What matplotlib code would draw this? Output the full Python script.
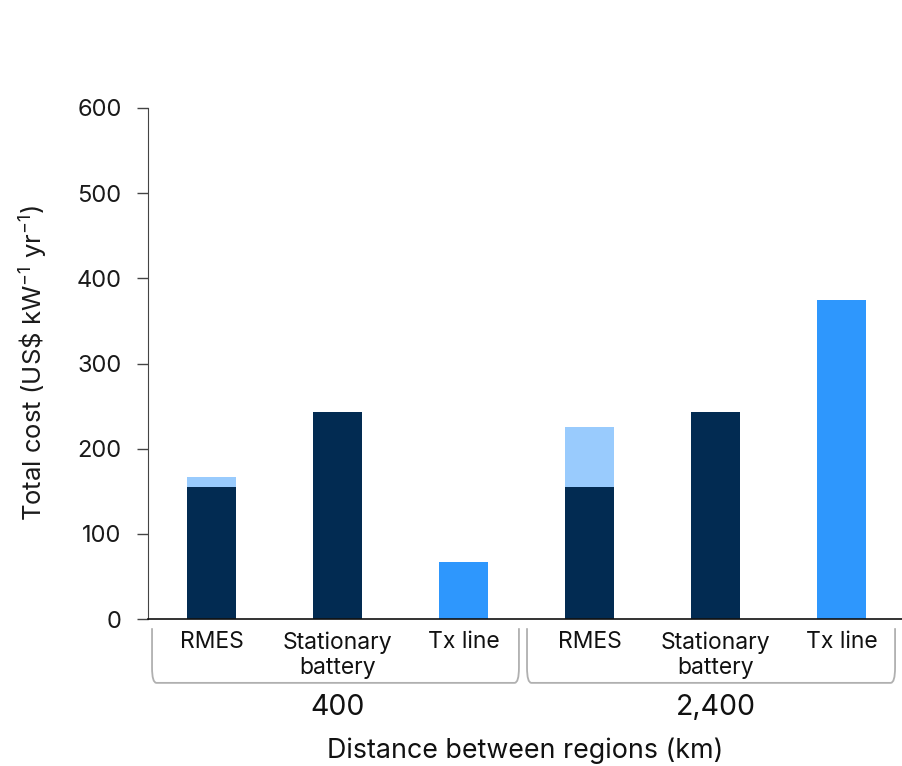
import matplotlib
matplotlib.use("Agg")
import matplotlib.pyplot as plt
from matplotlib.path import Path
from matplotlib.patches import PathPatch
import numpy as np

plt.rcParams['font.family'] = ['Inter', 'DejaVu Sans']
plt.rcParams['mathtext.fontset'] = 'custom'
plt.rcParams['mathtext.rm'] = 'Inter'
plt.rcParams['mathtext.it'] = 'Inter'

# ---- data ----
categories = ['RMES', 'Stationary\nbattery', 'Tx line', 'RMES', 'Stationary\nbattery', 'Tx line']
distances = ['400', '2,400']
base_cost = [155, 243, 67, 155, 243, 375]
extra_cost = [12, 0, 0, 71, 0, 0]
yticks = [0, 100, 200, 300, 400, 500, 600]

DARK = '#022b52'
LIGHT = '#99cbfd'
BRIGHT = '#2e97fd'
base_colors = [DARK, DARK, BRIGHT, DARK, DARK, BRIGHT]

fig = plt.figure(figsize=(9.03, 7.66), dpi=100)
ax = fig.add_axes([148/903, 1-619/766, 1-148/903, 511/766])

x = np.arange(len(categories))
ax.bar(x, base_cost, width=0.39, color=base_colors, zorder=2)
ax.bar(x, extra_cost, width=0.39, bottom=base_cost, color=LIGHT, zorder=2)

ax.set_xlim(-0.504, 5.488)
ax.set_ylim(0, 600)
ax.set_yticks(yticks)
ax.set_yticklabels([str(v) for v in yticks], fontsize=17, color='#1a1a1a')
ax.set_xticks(x)
ax.set_xticklabels(categories, fontsize=16.5, color='#111111', linespacing=1.2, va='top')
ax.tick_params(axis='x', length=0, pad=9)
ax.tick_params(axis='y', length=8, width=1, color='#444444', pad=11)

for s in ['top', 'right']:
    ax.spines[s].set_visible(False)
ax.spines['left'].set_color('#444444')
ax.spines['bottom'].set_color('#111111')
ax.spines['bottom'].set_linewidth(1.2)

ax.set_ylabel(r'Total cost (US\$ kW$^{-1}$ yr$^{-1}$)', fontsize=18.5, color='#1a1a1a', labelpad=19)

# brackets
trans = ax.get_xaxis_transform()
def bracket(x0, x1, ytop=-0.018, ybot=-0.125, r=0.03, rx=0.035):
    verts = [(x0, ytop), (x0, ybot + r), (x0, ybot), (x0 + rx, ybot),
             (x1 - rx, ybot), (x1, ybot), (x1, ybot + r), (x1, ytop)]
    codes = [Path.MOVETO, Path.LINETO, Path.CURVE3, Path.CURVE3,
             Path.LINETO, Path.CURVE3, Path.CURVE3, Path.LINETO]
    p = PathPatch(Path(verts, codes), transform=trans, fill=False,
                  edgecolor='#b0b0b0', lw=1.3, clip_on=False)
    ax.add_patch(p)

bracket(-0.472, 2.44)
bracket(2.504, 5.425)

for i, d in enumerate(distances):
    ax.text(1 + 3*i, -0.174, d, transform=trans, ha='center', va='center',
            fontsize=20.5, color='#111111')

ax.text(0.5, -0.257, 'Distance between regions (km)', transform=ax.transAxes,
        ha='center', va='center', fontsize=19.3, color='#111111')

fig.savefig('out.png', dpi=100)
